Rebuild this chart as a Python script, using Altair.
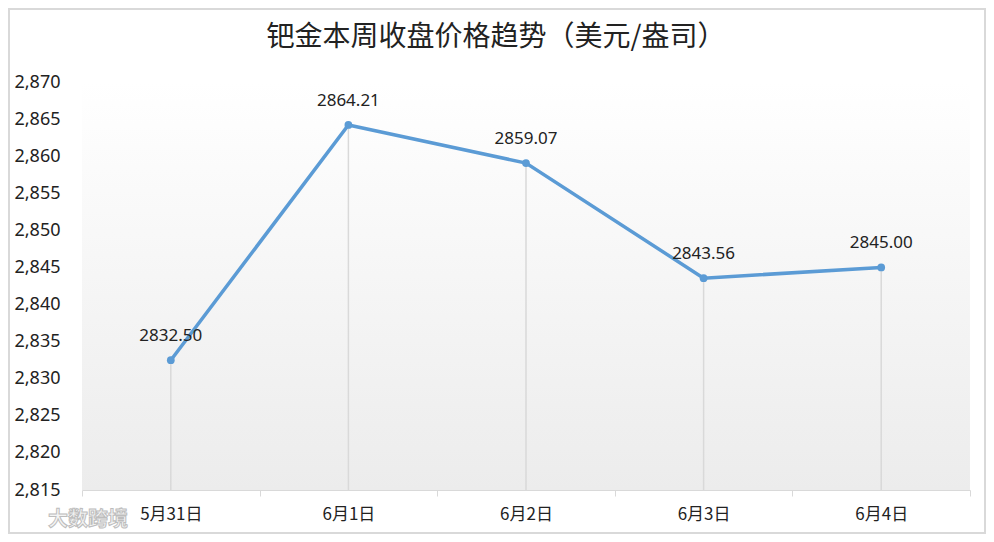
import altair as alt
import pandas as pd

categories = ["5月31日", "6月1日", "6月2日", "6月3日", "6月4日"]
prices = [2832.50, 2864.21, 2859.07, 2843.56, 2845.00]
y_ticks = [2815, 2820, 2825, 2830, 2835, 2840, 2845, 2850, 2855, 2860, 2865, 2870]
title_text = "钯金本周收盘价格趋势（美元/盎司）"
watermark = "大数跨境"

df = pd.DataFrame({"date": categories, "price": prices})

W, H = 888, 408
PL, PT, PR, PB = 74, 74, 16, 44

xenc = alt.X("date:N", sort=categories,
             scale=alt.Scale(paddingInner=0, paddingOuter=0),
             axis=alt.Axis(title=None, labelAngle=0, domainColor="#d9d9d9", domainWidth=1,
                           tickColor="#d9d9d9", tickSize=6, tickBand="extent",
                           labelFont="Noto Sans CJK SC", labelFontSize=17, labelColor="#222222",
                           labelPadding=10))
yenc = alt.Y("price:Q", title=None,
             scale=alt.Scale(domain=[2815, 2870], nice=False, zero=False),
             axis=alt.Axis(values=y_ticks, format=",d", domain=False, ticks=False, grid=False,
                           labelOverlap=False,
                           labelFont="Noto Sans", labelFontSize=18, labelColor="#222222",
                           labelPadding=22))

bg = alt.Chart(df).mark_rect(
    fill=alt.Gradient(gradient="linear", x1=0, y1=0, x2=0, y2=1,
                      stops=[alt.GradientStop(offset=0, color="#ffffff"),
                             alt.GradientStop(offset=1, color="#ececec")])
).encode(x=alt.value(0), x2=alt.value(W), y=alt.value(0), y2=alt.value(H))

border = alt.Chart(df).mark_rect(fill="transparent", stroke="#d9d9d9", strokeWidth=2, clip=False).encode(
    x=alt.value(-PL + 1), x2=alt.value(W + PR - 1), y=alt.value(-PT + 1), y2=alt.value(H + PB - 1))

drops = alt.Chart(df).mark_rule(color="#d9d9d9", strokeWidth=1.5).encode(
    x=xenc, y=yenc, y2=alt.value(H))

line = alt.Chart(df).mark_line(color="#5b9bd5", strokeWidth=3.5).encode(x=xenc, y=yenc)

points = alt.Chart(df).mark_circle(color="#5b9bd5", size=60, opacity=1).encode(x=xenc, y=yenc)

labels = alt.Chart(df).mark_text(font="Noto Sans", fontSize=17, color="#222222", dy=-24,
                                 baseline="middle").encode(
    x=xenc, y=yenc, text=alt.Text("price:Q", format=".2f"))

wm = alt.Chart(pd.DataFrame({"t": [watermark]})).mark_text(
    font="Noto Sans CJK SC", fontSize=20, fontWeight="bold", color="#f4f4f4",
    stroke="#bdbdbd", strokeWidth=1, align="left", baseline="middle", clip=False
).encode(x=alt.value(-PL + 40), y=alt.value(H + 30), text="t:N")

ttl = alt.Chart(pd.DataFrame({"t": [title_text]})).mark_text(
    font="Noto Sans CJK SC", fontSize=28, color="#222222", align="center",
    baseline="middle", clip=False
).encode(x=alt.value(414), y=alt.value(-44), text="t:N")

chart = alt.layer(bg, border, drops, line, points, labels, wm, ttl).properties(
    width=W, height=H,
    padding={"left": PL, "top": PT, "right": PR, "bottom": PB},
    autosize=alt.AutoSizeParams(type="none"),
).configure_view(stroke=None)

chart.save("out.html", embed_options={"renderer": "svg", "actions": False})
